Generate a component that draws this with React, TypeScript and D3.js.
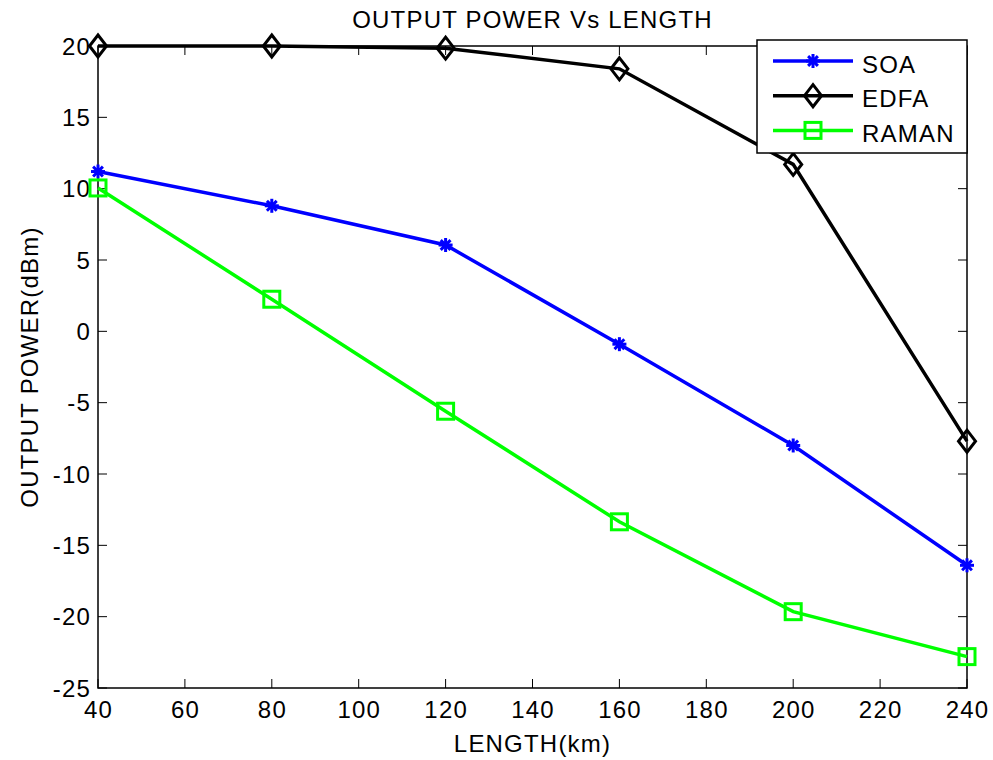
import React from 'react';
import * as d3 from 'd3';

const lengths = [40, 80, 120, 160, 200, 240];
const soa = [11.2, 8.8, 6.05, -0.9, -8.0, -16.4];
const edfa = [20, 20, 19.85, 18.4, 11.7, -7.7];
const raman = [10.05, 2.25, -5.6, -13.35, -19.65, -22.8];
const xTicks = [40, 60, 80, 100, 120, 140, 160, 180, 200, 220, 240];
const yTicks = [20, 15, 10, 5, 0, -5, -10, -15, -20, -25];

const W = 993;
const H = 760;
const margin = { top: 46, right: 26, bottom: 72, left: 98 };
const font = 'Liberation Sans, Arial, sans-serif';
const fs = 24;
const ls = 1.2;

const seriesList = [
  { name: 'SOA', values: soa, color: '#0000ff', marker: 'star' },
  { name: 'EDFA', values: edfa, color: '#000000', marker: 'diamond' },
  { name: 'RAMAN', values: raman, color: '#00ff00', marker: 'square' },
];

const Marker = ({ type, x, y, color }: { type: string; x: number; y: number; color: string }) => {
  if (type === 'diamond') {
    const rx = 8.5, ry = 11;
    return <path d={`M${x},${y - ry}L${x + rx},${y}L${x},${y + ry}L${x - rx},${y}Z`} fill="none" stroke={color} strokeWidth={3} />;
  }
  if (type === 'square') {
    const r = 8;
    return <rect x={x - r} y={y - r} width={2 * r} height={2 * r} fill="none" stroke={color} strokeWidth={3} />;
  }
  const r = 7;
  return (
    <g stroke={color} strokeWidth={3}>
      <line x1={x - r} y1={y} x2={x + r} y2={y} />
      <line x1={x} y1={y - r} x2={x} y2={y + r} />
      <line x1={x - r * 0.7} y1={y - r * 0.7} x2={x + r * 0.7} y2={y + r * 0.7} />
      <line x1={x - r * 0.7} y1={y + r * 0.7} x2={x + r * 0.7} y2={y - r * 0.7} />
      <circle cx={x} cy={y} r={3.5} fill={color} stroke="none" />
    </g>
  );
};

export default function App() {
  const x = d3.scaleLinear().domain([40, 240]).range([margin.left, W - margin.right]);
  const y = d3.scaleLinear().domain([-25, 20]).range([H - margin.bottom, margin.top]);
  const line = d3.line<number>().x((_, i) => x(lengths[i])).y(d => y(d));

  const x0 = x.range()[0], x1 = x.range()[1];
  const y0 = y.range()[0], y1 = y.range()[1];
  const tick = 9;

  return (
    <svg width={W} height={H} style={{ position: 'absolute', left: 0, top: 0, background: '#fff' }}>
      <rect width={W} height={H} fill="#fff" />
      {/* ticks, inward on all four sides */}
      <g stroke="#000" strokeWidth={1}>
        {xTicks.map(t => (
          <g key={'xt' + t}>
            <line x1={x(t)} x2={x(t)} y1={y0} y2={y0 - tick} />
            <line x1={x(t)} x2={x(t)} y1={y1} y2={y1 + tick} />
          </g>
        ))}
        {yTicks.map(t => (
          <g key={'yt' + t}>
            <line x1={x0} x2={x0 + tick} y1={y(t)} y2={y(t)} />
            <line x1={x1} x2={x1 - tick} y1={y(t)} y2={y(t)} />
          </g>
        ))}
      </g>
      <rect x={x0} y={y1} width={x1 - x0} height={y0 - y1} fill="none" stroke="#000" strokeWidth={1.5} />

      <g fontFamily={font} fontSize={fs} fill="#000" letterSpacing={ls}>
        {xTicks.map(t => (
          <text key={'xl' + t} x={x(t) + ls / 2} y={y0 + 30} textAnchor="middle">{t}</text>
        ))}
        {yTicks.map(t => (
          <text key={'yl' + t} x={x0 - 7} y={y(t) + 8.5} textAnchor="end">{t}</text>
        ))}
      </g>

      {seriesList.map(s => (
        <g key={s.name}>
          <path d={line(s.values) || ''} fill="none" stroke={s.color} strokeWidth={3.5} />
          {s.values.map((v, i) => (
            <Marker key={i} type={s.marker} x={x(lengths[i])} y={y(v)} color={s.color} />
          ))}
        </g>
      ))}

      {/* legend */}
      <g>
        <rect x={757} y={40} width={210} height={113} fill="#fff" stroke="#000" strokeWidth={1.5} />
        {seriesList.map((s, i) => {
          const ly = 61 + i * 34.7;
          return (
            <g key={'lg' + s.name}>
              <line x1={773} x2={853} y1={ly} y2={ly} stroke={s.color} strokeWidth={3.5} />
              <Marker type={s.marker} x={813} y={ly} color={s.color} />
              <text x={862} y={ly + 11.5} fontFamily={font} fontSize={fs} letterSpacing={ls} fill="#000">{s.name}</text>
            </g>
          );
        })}
      </g>

      <g fontFamily={font} fontSize={fs} letterSpacing={ls} textAnchor="middle">
        <text x={(x0 + x1) / 2} y={28}>OUTPUT POWER Vs LENGTH</text>
        <text x={(x0 + x1) / 2} y={752}>LENGTH(km)</text>
        <text transform={`translate(38,${(y0 + y1) / 2}) rotate(-90)`}>OUTPUT POWER(dBm)</text>
      </g>
    </svg>
  );
}
